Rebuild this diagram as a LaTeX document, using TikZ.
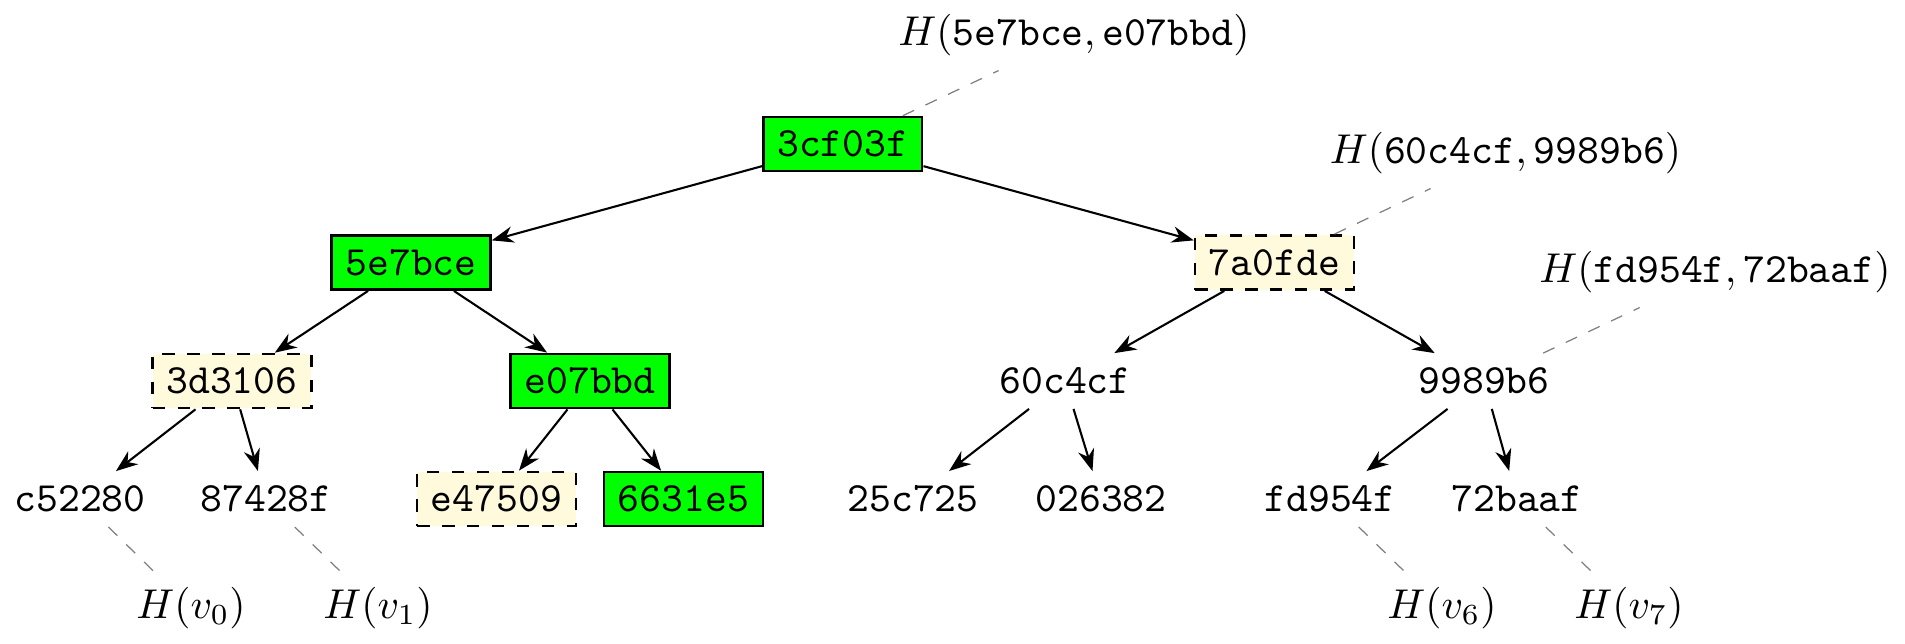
\documentclass[tikz,border=0pt]{standalone}
\usetikzlibrary{arrows.meta}
\definecolor{hashgreen}{RGB}{0,255,0}
\definecolor{hashyellow}{RGB}{255,250,220}
\begin{document}
\begin{tikzpicture}[x=0.0084388cm, y=-0.0084388cm,
  hnode/.style={font=\ttfamily},
  greenbox/.style={hnode, draw=black, line width=0.6pt, fill=hashgreen},
  yellowbox/.style={hnode, draw=black, line width=0.6pt, dashed, fill=hashyellow},
  arr/.style={-{Stealth}, black, solid, line width=0.5pt},
  hashline/.style={gray, dashed, line width=0.3pt},
  hlabel/.style={}]
\useasboundingbox (0,0) rectangle (1905,643);
% level 0
\node[greenbox] (r) at (842.75,144) {3cf03f};
% level 1
\node[greenbox] (a) at (411,262.5) {5e7bce};
\node[yellowbox] (b) at (1274.5,262.5) {7a0fde};
% level 2
\node[yellowbox] (aa) at (232,381) {3d3106};
\node[greenbox] (ab) at (590,381) {e07bbd};
\node[hnode] (ba) at (1065,381) {60c4cf};
\node[hnode] (bb) at (1484,381) {9989b6};
% level 3
\node[hnode] (aaa) at (80,499) {c52280};
\node[hnode] (aab) at (266,499) {87428f};
\node[yellowbox] (aba) at (496.5,499) {e47509};
\node[greenbox] (abb) at (683.5,499) {6631e5};
\node[hnode] (baa) at (913,499) {25c725};
\node[hnode] (bab) at (1101,499) {026382};
\node[hnode] (bba) at (1330,499) {fd954f};
\node[hnode] (bbb) at (1517,499) {72baaf};
% labels
\node[hlabel] (hr) at (1074,35) {$H(\texttt{5e7bce}, \texttt{e07bbd})$};
\node[hlabel] (hb) at (1505.5,153) {$H(\texttt{60c4cf}, \texttt{9989b6})$};
\node[hlabel] (hbb) at (1715,272) {$H(\texttt{fd954f}, \texttt{72baaf})$};
\node[hlabel] (hv0) at (191,608) {$H(v_0)$};
\node[hlabel] (hv1) at (378,608) {$H(v_1)$};
\node[hlabel] (hv6) at (1442,608) {$H(v_6)$};
\node[hlabel] (hv7) at (1629,608) {$H(v_7)$};
% arrows
\draw[arr] (r) -- (a);
\draw[arr] (r) -- (b);
\draw[arr] (a) -- (aa);
\draw[arr] (a) -- (ab);
\draw[arr] (b) -- (ba);
\draw[arr] (b) -- (bb);
\draw[arr] (aa) -- (aaa);
\draw[arr] (aa) -- (aab);
\draw[arr] (ab) -- (aba);
\draw[arr] (ab) -- (abb);
\draw[arr] (ba) -- (baa);
\draw[arr] (ba) -- (bab);
\draw[arr] (bb) -- (bba);
\draw[arr] (bb) -- (bbb);
% hash lines
\draw[hashline] (r) -- (hr);
\draw[hashline] (b) -- (hb);
\draw[hashline] (bb) -- (hbb);
\draw[hashline] (aaa) -- (hv0);
\draw[hashline] (aab) -- (hv1);
\draw[hashline] (bba) -- (hv6);
\draw[hashline] (bbb) -- (hv7);
\end{tikzpicture}
\end{document}
